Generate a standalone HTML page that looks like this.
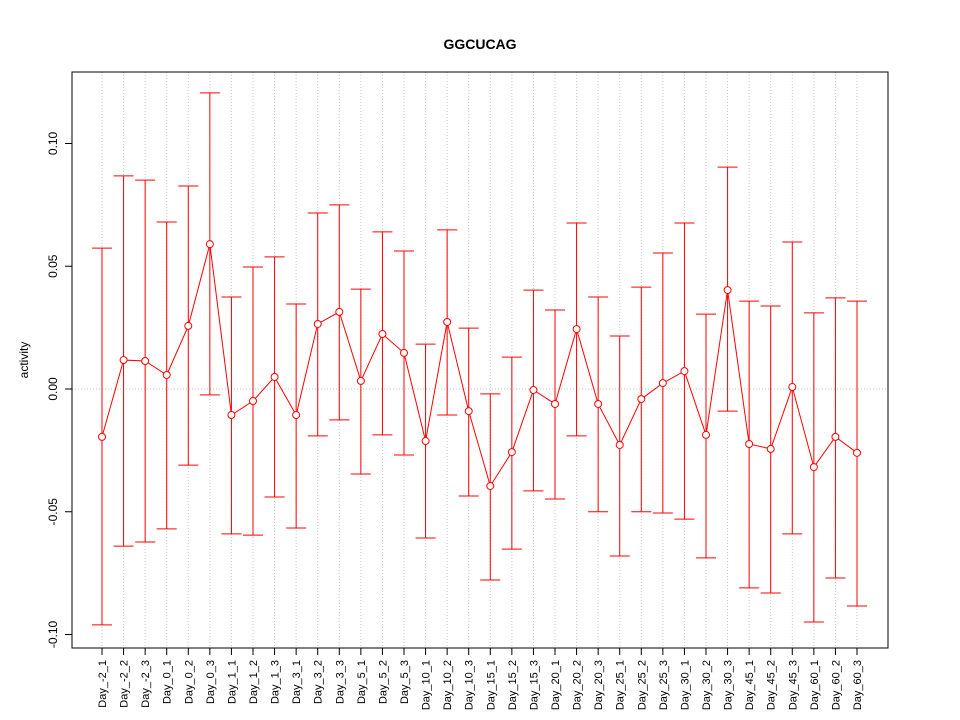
<!DOCTYPE html>
<html><head><meta charset="utf-8"><style>body{margin:0;background:#fff}svg{display:block;font-family:"Liberation Sans",sans-serif}</style></head>
<body>
<svg id="chart" width="960" height="720"></svg>
<script>
const categories=["Day_-2_1","Day_-2_2","Day_-2_3","Day_0_1","Day_0_2","Day_0_3","Day_1_1","Day_1_2","Day_1_3","Day_3_1","Day_3_2","Day_3_3","Day_5_1","Day_5_2","Day_5_3","Day_10_1","Day_10_2","Day_10_3","Day_15_1","Day_15_2","Day_15_3","Day_20_1","Day_20_2","Day_20_3","Day_25_1","Day_25_2","Day_25_3","Day_30_1","Day_30_2","Day_30_3","Day_45_1","Day_45_2","Day_45_3","Day_60_1","Day_60_2","Day_60_3"];
const means=[-0.0195,0.0118,0.0114,0.0057,0.0257,0.059,-0.0106,-0.0049,0.0049,-0.0106,0.0265,0.0314,0.0033,0.0224,0.0147,-0.0212,0.0273,-0.009,-0.0395,-0.0257,-0.0004,-0.0061,0.0244,-0.0061,-0.0228,-0.0041,0.0024,0.0073,-0.0187,0.0403,-0.0224,-0.0244,0.0008,-0.0318,-0.0195,-0.026];
const uppers=[0.0574,0.0868,0.0851,0.068,0.0827,0.1206,0.0375,0.0497,0.0538,0.0346,0.0717,0.075,0.0407,0.064,0.0562,0.0183,0.0648,0.0248,-0.002,0.013,0.0403,0.0322,0.0676,0.0375,0.0216,0.0415,0.0554,0.0676,0.0305,0.0904,0.0358,0.0338,0.0599,0.031,0.0371,0.0358];
const lowers=[-0.0961,-0.064,-0.0623,-0.057,-0.031,-0.0024,-0.059,-0.0595,-0.044,-0.0566,-0.0191,-0.0126,-0.0346,-0.0187,-0.0269,-0.0607,-0.0106,-0.0436,-0.0778,-0.0652,-0.0415,-0.0448,-0.0191,-0.05,-0.068,-0.05,-0.0505,-0.053,-0.0688,-0.009,-0.081,-0.0831,-0.059,-0.0949,-0.077,-0.0884];
const yTicks=[-0.10,-0.05,0.00,0.05,0.10];
const tickLabels=["-0.10","-0.05","0.00","0.05","0.10"];
const svg=document.getElementById('chart');const NS='http://www.w3.org/2000/svg';
function mk(t,a,p){const e=document.createElementNS(NS,t);for(const k in a)e.setAttribute(k,a[k]);(p||svg).appendChild(e);return e;}
const L=72,R=888,T=72,B=648;
const x=i=>102+i*(857-102)/(categories.length-1);
const y=v=>389-v*2455;
// grid
const g=mk('g',{});
categories.forEach((c,i)=>mk('line',{x1:x(i),x2:x(i),y1:T,y2:B,stroke:'#c8c8c8','stroke-dasharray':'1,2'},g));
mk('line',{x1:L,x2:R,y1:y(0),y2:y(0),stroke:'#c8c8c8','stroke-dasharray':'1,2'},g);
// frame
const fr=mk('rect',{x:L,y:T,width:R-L,height:B-T,fill:'none',stroke:'#000'});
// y axis
const ya=mk('g',{});
mk('line',{x1:L,x2:L,y1:y(yTicks[0]),y2:y(yTicks[yTicks.length-1]),stroke:'#000'},ya);
yTicks.forEach((v,i)=>{mk('line',{x1:L-7,x2:L,y1:y(v),y2:y(v),stroke:'#000'},ya);
const t=mk('text',{x:0,y:0,transform:`translate(${L-15},${y(v)}) rotate(-90)`,'text-anchor':'middle','font-size':12},ya);t.textContent=tickLabels[i];});
// x axis
const xa=mk('g',{});
mk('line',{x1:x(0),x2:x(categories.length-1),y1:B,y2:B,stroke:'#000'},xa);
categories.forEach((c,i)=>{mk('line',{x1:x(i),x2:x(i),y1:B,y2:B+7,stroke:'#000'},xa);
const t=mk('text',{x:0,y:0,transform:`translate(${x(i)+4},${B+12}) rotate(-90)`,'text-anchor':'end','font-size':11},xa);t.textContent=c;});
// error bars
const eb=mk('g',{});
categories.forEach((c,i)=>{const X=x(i);
mk('line',{x1:X,x2:X,y1:y(uppers[i]),y2:y(lowers[i]),stroke:'#f00'},eb);
mk('line',{x1:X-10,x2:X+10,y1:y(uppers[i]),y2:y(uppers[i]),stroke:'#f00'},eb);
mk('line',{x1:X-10,x2:X+10,y1:y(lowers[i]),y2:y(lowers[i]),stroke:'#f00'},eb);});
// line
const ln=mk('polyline',{points:means.map((m,i)=>x(i)+','+y(m)).join(' '),fill:'none',stroke:'#f00'});

means.forEach((m,i)=>{const p=mk('circle',{cx:x(i),cy:y(m),r:3.5,fill:'#fff',stroke:'#f00'});
});
const ti=mk('text',{x:480,y:49,'text-anchor':'middle','font-size':14,'font-weight':'bold'});ti.textContent='GGCUCAG';

const yl=mk('text',{x:0,y:0,transform:'translate(28,360) rotate(-90)','text-anchor':'middle','font-size':12});yl.textContent='activity';

</script>
</body></html>
